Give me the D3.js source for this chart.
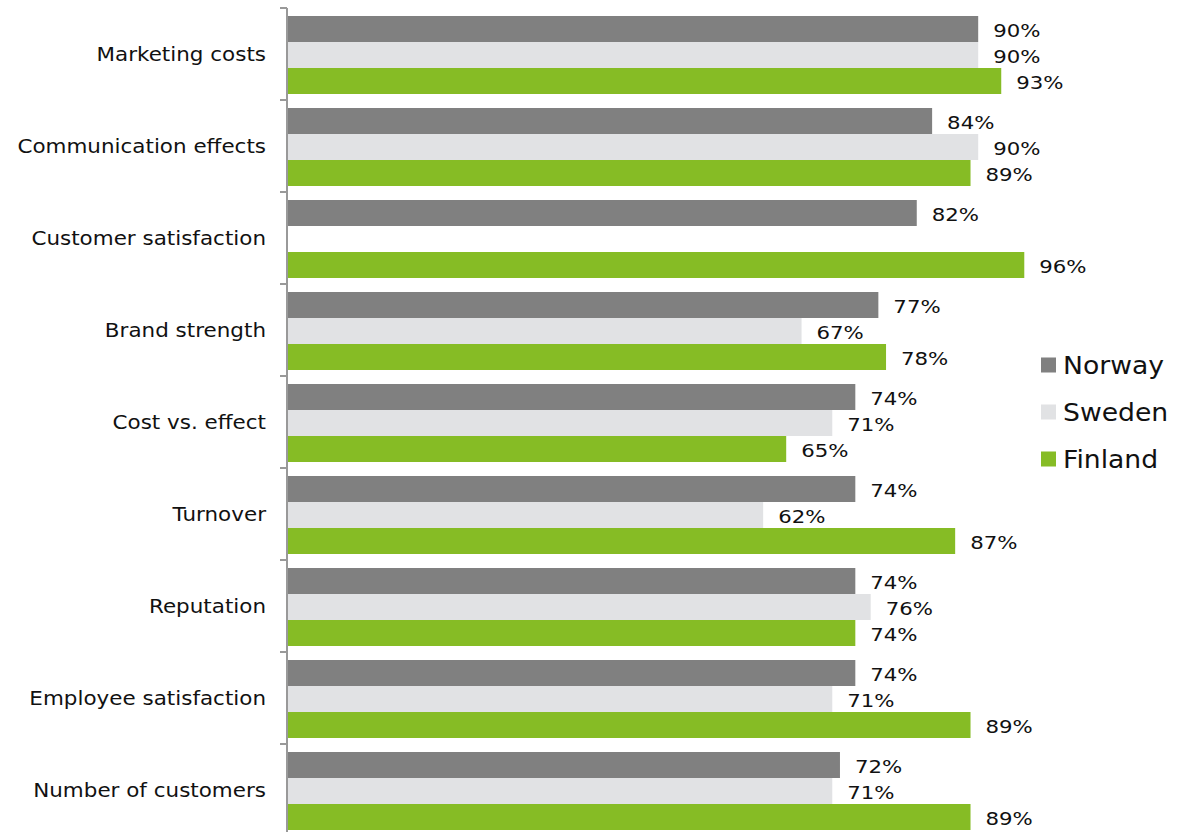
<!DOCTYPE html>
<html>
<head>
<meta charset="utf-8">
<script src="https://cdn.jsdelivr.net/npm/d3@7/dist/d3.min.js"></script>
<style>
  html, body { margin: 0; padding: 0; background: #fff; }
  svg { display: block; font-family: "DejaVu Sans", Verdana, sans-serif; }
</style>
</head>
<body>
<svg id="chart" width="1191" height="832"></svg>
<script>
// Share of respondents per measured area, by country (percent)
const categories = [
  "Marketing costs",
  "Communication effects",
  "Customer satisfaction",
  "Brand strength",
  "Cost vs. effect",
  "Turnover",
  "Reputation",
  "Employee satisfaction",
  "Number of customers"
];
const seriesNames = ["Norway", "Sweden", "Finland"];
const norway  = [90, 84, 82, 77, 74, 74, 74, 74, 72];
const sweden  = [90, 90, null, 67, 71, 62, 76, 71, 71];
const finland = [93, 89, 96, 78, 65, 87, 74, 89, 89];
const seriesValues = [norway, sweden, finland];
const colors = ["#808080", "#e1e2e4", "#86bc25"];

const svg = d3.select("#chart");
const x0 = 287;
const labelStretch = 1.13;   // wide, Verdana-like letterforms

const x = d3.scaleLinear().domain([0, 100]).range([x0, x0 + 768]);
const y = d3.scaleBand().domain(categories).range([8, 836]).paddingInner(0).paddingOuter(0);
const inner = d3.scaleBand().domain(seriesNames).range([8, 86]).padding(0);

// category labels on the left
const axis = d3.axisLeft(y).tickSize(0).tickPadding(0);
const gAxis = svg.append("g").attr("transform", `translate(${x0},0)`);
gAxis.call(axis);
gAxis.select(".domain").remove();
gAxis.selectAll(".tick text")
  .attr("x", 0)
  .attr("font-size", 19)
  .attr("fill", "#111")
  .attr("font-family", "DejaVu Sans, Verdana, sans-serif")
  .attr("transform", `translate(-21,1) scale(${labelStretch},1)`);

// axis line and boundary ticks between categories
svg.append("line")
  .attr("x1", x0).attr("x2", x0)
  .attr("y1", 8).attr("y2", 836)
  .attr("stroke", "#999").attr("stroke-width", 2);
const bounds = categories.map(c => y(c)).concat([y.range()[1]]);
svg.selectAll("line.tick-b").data(bounds).join("line")
  .attr("class", "tick-b")
  .attr("x1", x0 - 7).attr("x2", x0)
  .attr("y1", d => d).attr("y2", d => d)
  .attr("stroke", "#999").attr("stroke-width", 2);

// bars and value labels
const groups = svg.append("g").selectAll("g.cat").data(categories).join("g")
  .attr("class", "cat")
  .attr("transform", c => `translate(0,${y(c)})`);

seriesNames.forEach((s, si) => {
  const vals = seriesValues[si];
  groups.each(function(c, ci) {
    const v = vals[ci];
    if (v == null) return;
    const g = d3.select(this);
    g.append("rect")
      .attr("x", x(0) + 1)
      .attr("y", inner(s))
      .attr("width", x(v) - x(0) - 1)
      .attr("height", inner.bandwidth())
      .attr("fill", colors[si]);
    g.append("text")
      .attr("transform", `translate(${x(v) + 15},${inner(s) + inner.bandwidth() / 2 + 1}) scale(1.15,1)`)
      .attr("dy", "0.36em")
      .attr("font-size", 18.5)
      .attr("fill", "#111")
      .text(v + "%");
  });
});

// legend
const legend = svg.append("g").attr("transform", "translate(1041,365)");
seriesNames.forEach((s, i) => {
  const row = legend.append("g").attr("transform", `translate(0,${i * 47})`);
  row.append("rect").attr("x", 0).attr("y", -7.5).attr("width", 15).attr("height", 15).attr("fill", colors[i]);
  row.append("text")
    .attr("transform", "translate(22,0) scale(1.11,1)")
    .attr("dy", "0.36em")
    .attr("font-size", 24).attr("fill", "#111").text(s);
});
</script>
</body>
</html>
